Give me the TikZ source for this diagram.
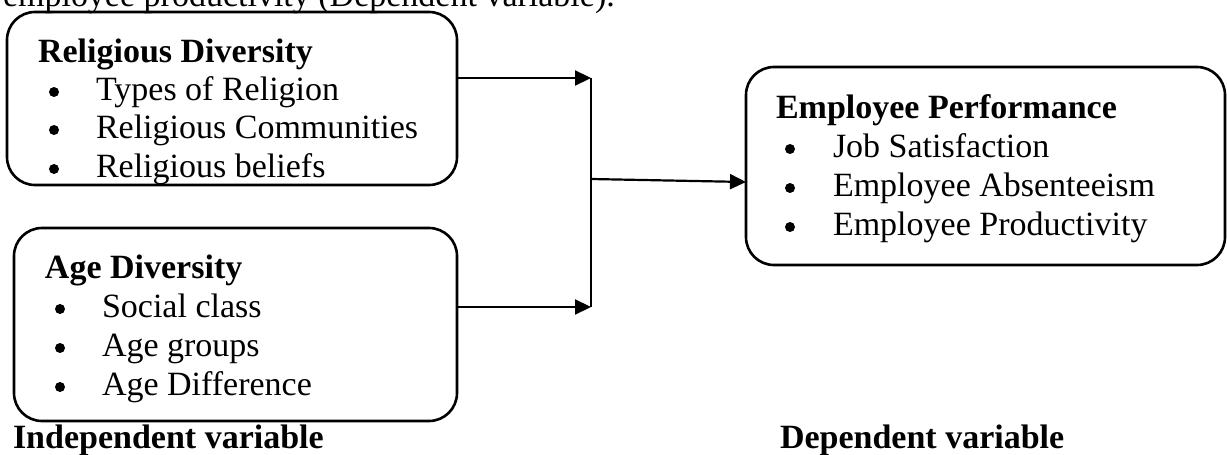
\documentclass[tikz,border=0pt]{standalone}
\usepackage{fontspec}
\setmainfont{Liberation Serif}
\usetikzlibrary{arrows.meta,calc}
\tikzset{
  box/.style={draw, line width=2.6pt, rounded corners=28pt, inner sep=0pt, outer sep=0pt},
  txt/.style={anchor=base west, inner sep=0pt, outer sep=0pt, font=\fontsize{34}{39}\selectfont},
  hd/.style={txt, font=\fontsize{34}{39}\selectfont\bfseries},
  bul/.style={circle, fill, inner sep=0pt, minimum size=10pt},
  arr/.style={line width=2.2pt, -{Triangle[length=16pt,width=15pt]}},
  ln/.style={line width=1.4pt}
}
\begin{document}
\begin{tikzpicture}[x=1pt,y=-1pt]
\useasboundingbox (0,0) rectangle (1227,455);
% cut-off sentence at top
\node[txt] (top) at (3,6) {employee productivity (Dependent variable).};
% boxes
\node[box, minimum width=450pt, minimum height=173pt] (rel) at (232,98.5) {};
\node[box, minimum width=443pt, minimum height=193pt] (age) at (235.5,324.5) {};
\node[box, minimum width=479pt, minimum height=198pt] (perf) at (985.5,166) {};
% box 1 text
\node[hd] (relh) at (38,62) {Religious Diversity};
\node[bul] (rb1) at (54,92) {};
\node[txt] (r1) at (96,100) {Types of Religion};
\node[bul] (rb2) at (54,130) {};
\node[txt] (r2) at (96,138) {Religious Communities};
\node[bul] (rb3) at (54,169) {};
\node[txt] (r3) at (96,177) {Religious beliefs};
% box 2 text
\node[hd] (ageh) at (45,278) {Age Diversity};
\node[bul] (ab1) at (60,309) {};
\node[txt] (a1) at (102,317) {Social class};
\node[bul] (ab2) at (60,348) {};
\node[txt] (a2) at (102,356) {Age groups};
\node[bul] (ab3) at (60,387) {};
\node[txt] (a3) at (102,395) {Age Difference};
% box 3 text
\node[hd] (perfh) at (776,118) {Employee Performance};
\node[bul] (pb1) at (790,149) {};
\node[txt] (p1) at (833,157) {Job Satisfaction};
\node[bul] (pb2) at (790,188) {};
\node[txt] (p2) at (833,196) {Employee Absenteeism};
\node[bul] (pb3) at (790,227) {};
\node[txt] (p3) at (833,235) {Employee Productivity};
% captions
\node[hd] (indep) at (13,448) {Independent variable};
\node[hd] (dep) at (780,448) {Dependent variable};
% connectors
\coordinate (j1) at (591,78);
\coordinate (j2) at (591,307);
\coordinate (j3) at (591,179);
\draw[arr] (rel.east |- j1) -- (j1);
\draw[arr] (age.east |- j2) -- (j2);
\draw[ln] (j1) -- (j2);
\draw[arr] (j3) -- ($(perf.west)+(0,16)$);
\end{tikzpicture}
\end{document}
